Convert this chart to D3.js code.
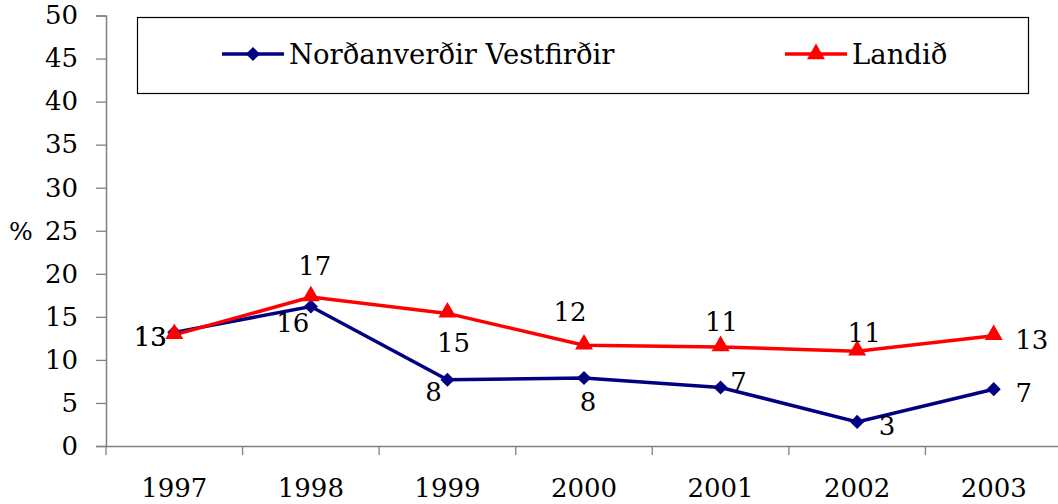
<!DOCTYPE html>
<html>
<head>
<meta charset="utf-8">
<script src="https://cdn.jsdelivr.net/npm/d3@7"></script>
<style>
  body { margin: 0; background: #fff; }
  svg { display: block; }
  text { font-family: "DejaVu Serif", Georgia, serif; fill: #000; }
</style>
</head>
<body>
<svg id="chart" width="1058" height="504"></svg>
<script>
// --- Data ---
const years = ["1997", "1998", "1999", "2000", "2001", "2002", "2003"];
const nordanverdir = [13.2, 16.2, 7.7, 7.9, 6.8, 2.8, 6.6];
const landid = [12.9, 17.3, 15.4, 11.7, 11.5, 11.0, 12.8];
const nordanverdirLabels = ["13", "16", "8", "8", "7", "3", "7"];
const landidLabels = ["13", "17", "15", "12", "11", "11", "13"];
const yTicks = [0, 5, 10, 15, 20, 25, 30, 35, 40, 45, 50];

// label positions relative to the point (layout only)
const blueOffsets = [[-24, 3], [-18, 16], [-14, 12], [4, 24], [18, -5], [30, 4], [30, 4]];
const redOffsets = [[-24, 3], [4, -31], [6, 30], [-14, -33], [1, -25], [7, -18], [38, 4]];

const svg = d3.select("#chart");
const margin = { left: 106, right: -4, top: 15.5, bottom: 58 };
const width = 1058, height = 504;

const x = d3.scaleBand().domain(years)
    .range([margin.left, width - margin.right]);
const y = d3.scaleLinear().domain([0, 50])
    .range([height - margin.bottom, margin.top]);

const axisColor = "#808080";

// --- Axes ---
const yAxis = svg.append("g")
    .attr("transform", `translate(${margin.left},0)`)
    .call(d3.axisLeft(y).tickValues(yTicks).tickSize(10).tickPadding(18));
yAxis.select(".domain").attr("stroke", axisColor).attr("stroke-width", 1.5);
yAxis.selectAll(".tick line").attr("stroke", axisColor).attr("stroke-width", 1.3);
yAxis.selectAll(".tick text").attr("font-size", 26)
    .attr("font-family", "DejaVu Serif").attr("fill", "#000");

const xAxis = svg.append("g")
    .attr("transform", `translate(0,${y(0)})`)
    .call(d3.axisBottom(x).tickSize(0).tickPadding(33));
xAxis.select(".domain").attr("stroke", axisColor).attr("stroke-width", 1.5);
xAxis.selectAll(".tick text").attr("font-size", 26)
    .attr("font-family", "DejaVu Serif").attr("fill", "#000");

// x ticks sit between categories
svg.append("g").selectAll("line")
    .data(years)
    .join("line")
    .attr("x1", d => x(d)).attr("x2", d => x(d))
    .attr("y1", y(0)).attr("y2", y(0) + 9)
    .attr("stroke", axisColor).attr("stroke-width", 1.3);

svg.append("text")
    .attr("x", 9).attr("y", y(25) + 9)
    .attr("font-size", 25)
    .text("%");

// --- Lines ---
const cx = d => x(d) + x.bandwidth() / 2;
const line = d3.line().x(d => cx(d.year)).y(d => y(d.value));

function series(values, color) {
    return years.map((yr, i) => ({ year: yr, value: values[i], color }));
}
const blue = series(nordanverdir, "#000080");
const red = series(landid, "#ff0000");

svg.append("path").datum(blue)
    .attr("fill", "none").attr("stroke", "#000080").attr("stroke-width", 3.5)
    .attr("d", line);
svg.append("path").datum(red)
    .attr("fill", "none").attr("stroke", "#ff0000").attr("stroke-width", 3.5)
    .attr("d", line);

// square rotated 45deg gives the Excel-style diamond
const diamond = d3.symbol().type(d3.symbolSquare).size(100);
const triangle = d3.symbol().type(d3.symbolTriangle).size(140);

svg.append("g").selectAll("path")
    .data(blue).join("path")
    .attr("transform", d => `translate(${cx(d.year)},${y(d.value)}) rotate(45)`)
    .attr("d", diamond).attr("fill", "#000080");

svg.append("g").selectAll("path")
    .data(red).join("path")
    .attr("transform", d => `translate(${cx(d.year)},${y(d.value) - 1})`)
    .attr("d", triangle).attr("fill", "#ff0000");

// --- Data labels ---
// 1997 labels share one spot, as in the original
const labelY = (d, i, off) => i === 0
    ? y((nordanverdir[0] + landid[0]) / 2) + off[i][1] + 9
    : y(d.value) + off[i][1] + 9;

svg.append("g").selectAll("text")
    .data(blue).join("text")
    .attr("x", (d, i) => cx(d.year) + blueOffsets[i][0])
    .attr("y", (d, i) => labelY(d, i, blueOffsets))
    .attr("text-anchor", "middle").attr("font-size", 26)
    .text((d, i) => nordanverdirLabels[i]);

svg.append("g").selectAll("text")
    .data(red).join("text")
    .attr("x", (d, i) => cx(d.year) + redOffsets[i][0])
    .attr("y", (d, i) => labelY(d, i, redOffsets))
    .attr("text-anchor", "middle").attr("font-size", 26)
    .text((d, i) => landidLabels[i]);

// --- Legend ---
const legend = svg.append("g");
legend.append("rect")
    .attr("x", 137.5).attr("y", 17.5).attr("width", 891).attr("height", 76)
    .attr("fill", "#fff").attr("stroke", "#000").attr("stroke-width", 1.2);

const legendItems = [
    { name: "Norðanverðir Vestfirðir", color: "#000080", sym: diamond, rot: 45, x0: 222 },
    { name: "Landið", color: "#ff0000", sym: triangle, rot: 0, x0: 785 }
];
legendItems.forEach(it => {
    const g = legend.append("g");
    g.append("line")
        .attr("x1", it.x0).attr("x2", it.x0 + 62)
        .attr("y1", 54).attr("y2", 54)
        .attr("stroke", it.color).attr("stroke-width", 3.5);
    g.append("path")
        .attr("transform", `translate(${it.x0 + 31},54) rotate(${it.rot})`)
        .attr("d", it.sym).attr("fill", it.color);
    g.append("text")
        .attr("x", it.x0 + 67).attr("y", 64)
        .attr("font-size", 27.5)
        .text(it.name);
});
</script>
</body>
</html>
